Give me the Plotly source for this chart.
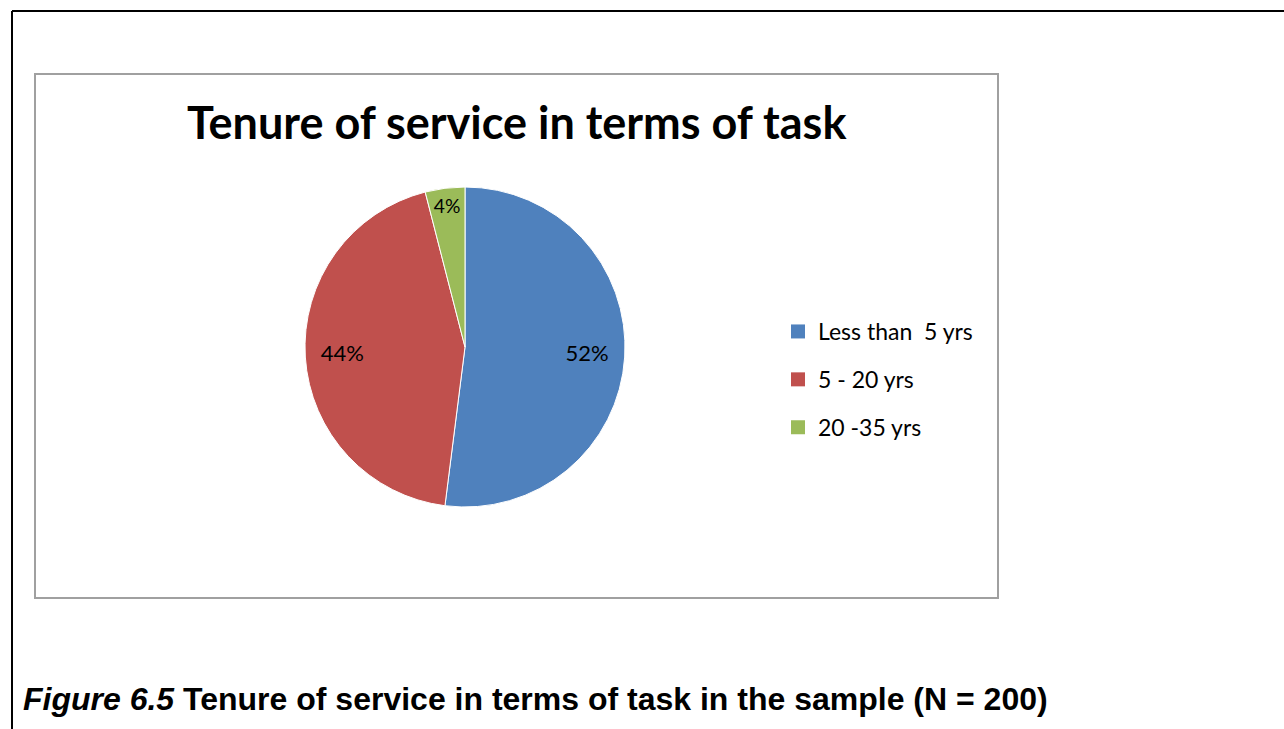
import plotly.graph_objects as go

categories = ["Less than  5 yrs", "5 - 20 yrs", "20 -35 yrs"]
shares = [52, 44, 4]
colors = ["#4F81BD", "#C0504D", "#9BBB59"]
title_text = "Tenure of service in terms of task"
caption_text = "<i>Figure 6.5</i> Tenure of service in terms of task in the sample (N = 200)"

W, H = 1284, 729

def px(x):
    return x / W

def py(y):
    return 1 - y / H

NB = "\u00a0"
# shift labels outward within their slices, like the reference
text_templates = [NB * 15 + "%{percent}", "%{percent}" + NB * 15, "%{percent}"]

fig = go.Figure()
fig.add_trace(go.Pie(
    labels=categories,
    values=shares,
    sort=False,
    direction="clockwise",
    rotation=0,
    marker=dict(colors=colors, line=dict(color="white", width=1)),
    texttemplate=text_templates,
    textposition="inside",
    insidetextorientation="horizontal",
    textfont=dict(family="Lato", size=22, color="black"),
    domain=dict(x=[px(305), px(625)], y=[py(507), py(187)]),
    hoverinfo="label+percent",
    showlegend=False,
))

# legend entries, one per category
for i, (cat, col) in enumerate(zip(categories, colors)):
    fig.add_trace(go.Scatter(
        x=[None], y=[None], mode="markers", name=cat,
        marker=dict(symbol="square", size=14, color=col),
        legendgroup=f"g{i}", showlegend=True, hoverinfo="skip",
    ))

fig.update_layout(
    width=W, height=H,
    margin=dict(l=0, r=0, t=0, b=0),
    paper_bgcolor="white",
    plot_bgcolor="rgba(0,0,0,0)",
    xaxis=dict(visible=False, domain=[0.99, 1]),
    yaxis=dict(visible=False, domain=[0.99, 1]),
    showlegend=True,
    legend=dict(
        x=px(778), y=py(310), xanchor="left", yanchor="top",
        font=dict(family="Lato", size=23, color="black"),
        bgcolor="rgba(0,0,0,0)",
        tracegroupgap=15,
    ),
    shapes=[
        dict(type="line", xref="paper", yref="paper", x0=px(12), x1=px(12), y0=py(11), y1=0,
             line=dict(color="black", width=2)),
        dict(type="line", xref="paper", yref="paper", x0=px(12), x1=1, y0=py(11), y1=py(11),
             line=dict(color="black", width=2)),
        dict(type="rect", xref="paper", yref="paper", x0=px(35), x1=px(998), y0=py(74), y1=py(598),
             line=dict(color="#A0A0A0", width=2)),
    ],
    annotations=[
        dict(text="<b>" + title_text + "</b>", xref="paper", yref="paper", x=px(517), y=py(122),
             xanchor="center", yanchor="middle", showarrow=False,
             font=dict(family="Lato", size=45, color="black")),
        dict(text="<b>" + caption_text + "</b>", xref="paper", yref="paper", x=px(21), y=py(699),
             xanchor="left", yanchor="middle", showarrow=False,
             font=dict(family="Liberation Sans", size=32, color="black")),
    ],
)

fig.write_html("out.html")
